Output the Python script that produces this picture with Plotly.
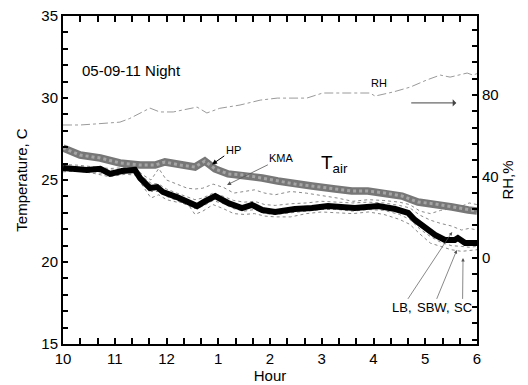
import plotly.graph_objects as go

# ---- data (hours elapsed since 10 PM) ----
hour_ticks = [0, 1, 2, 3, 4, 5, 6, 7, 8]
hour_labels = ["10", "11", "12", "1", "2", "3", "4", "5", "6"]

hours_tair = [0, 0.23, 0.46, 0.72, 0.91, 1.14, 1.39, 1.49, 1.68, 1.82, 1.93, 2.20, 2.45, 2.59, 2.74, 2.94,
              3.19, 3.46, 3.65, 3.85, 4.10, 4.48, 4.81, 5.12, 5.64, 6.09, 6.42, 6.67, 6.80, 7.00, 7.19,
              7.38, 7.57, 7.63, 7.77, 8.0]
tair = [25.73, 25.70, 25.61, 25.68, 25.37, 25.55, 25.61, 25.12, 24.51, 24.57, 24.27, 23.96, 23.60, 23.41,
        23.70, 24.02, 23.60, 23.29, 23.48, 23.17, 23.05, 23.23, 23.29, 23.41, 23.29, 23.41, 23.23, 22.99,
        22.56, 22.07, 21.65, 21.34, 21.34, 21.46, 21.16, 21.16]

hours_hp = [0, 0.33, 0.72, 1.10, 1.49, 1.78, 1.97, 2.26, 2.55, 2.74, 2.94, 3.19, 3.52, 3.85, 4.15, 4.48,
            4.81, 5.26, 5.58, 5.89, 6.22, 6.55, 6.86, 7.19, 7.52, 7.83, 8.0]
hp = [26.95, 26.52, 26.34, 26.04, 25.91, 25.91, 26.10, 25.91, 25.79, 26.16, 25.67, 25.37, 25.30, 25.12,
      24.94, 24.76, 24.63, 24.45, 24.33, 24.33, 24.21, 24.02, 23.66, 23.54, 23.35, 23.17, 23.11]

hours_thin = [0, 0.3, 0.6, 0.9, 1.2, 1.4, 1.55, 1.7, 1.85, 2.0, 2.2, 2.4, 2.55, 2.7, 2.9, 3.1, 3.3, 3.5,
              3.7, 3.9, 4.1, 4.4, 4.7, 5.0, 5.3, 5.6, 5.9, 6.2, 6.5, 6.7, 6.9, 7.1, 7.3, 7.5, 7.7, 7.85, 8.0]
kma = [25.95, 25.9, 25.8, 25.7, 25.75, 25.7, 25.3, 25.0, 25.7, 25.0, 24.75, 24.5, 24.45, 24.5, 24.75,
       24.55, 24.2, 24.3, 24.4, 24.2, 24.1, 24.3, 24.2, 24.05, 23.9, 23.7, 23.8, 23.75, 23.65, 23.5, 23.1,
       22.95, 23.15, 23.25, 23.4, 23.6, 23.5]
lb = [25.85, 25.8, 25.75, 25.6, 25.65, 25.55, 25.2, 24.8, 24.75, 24.45, 24.2, 23.95, 23.8, 23.9, 24.2,
      24.0, 23.75, 23.65, 23.7, 23.5, 23.45, 23.55, 23.6, 23.7, 23.65, 23.6, 23.65, 23.6, 23.45, 23.3,
      22.85, 22.55, 22.35, 22.2, 21.95, 22.05, 21.95]
sbw = [25.55, 25.6, 25.5, 25.3, 25.45, 25.4, 24.75, 24.3, 24.3, 24.0, 23.75, 23.45, 23.25, 23.4, 23.75,
       23.55, 23.25, 23.1, 23.2, 22.95, 22.9, 23.0, 23.1, 23.2, 23.2, 23.1, 23.2, 23.15, 22.9, 22.6, 22.0,
       21.55, 21.2, 21.0, 20.95, 20.9, 20.95]
sc = [25.5, 25.55, 25.4, 25.2, 25.35, 25.3, 24.6, 23.9, 24.1, 23.8, 23.65, 23.6, 22.9, 23.1, 23.5, 23.25,
      22.95, 22.9, 22.95, 22.8, 22.75, 22.75, 22.95, 23.05, 23.0, 22.95, 23.05, 22.9, 22.6, 22.3, 21.7,
      21.15, 20.95, 20.75, 20.65, 20.7, 20.75]

hours_rh = [0, 0.33, 0.62, 1.10, 1.29, 1.68, 1.87, 2.13, 2.59, 2.78, 3.03, 3.42, 3.81, 4.14, 4.71, 5.02,
            5.55, 5.93, 6.03, 6.38, 6.71, 7.03, 7.29, 7.48, 7.81, 7.92, 8.0]
rh = [65.3, 65.3, 65.8, 66.7, 68.5, 73.6, 71.7, 71.7, 74.1, 71.2, 73.5, 75.1, 77.5, 78.5, 78.5, 81.0,
      81.0, 81.0, 79.5, 81.5, 83.9, 87.4, 89.8, 88.8, 90.8, 89.8, 90.5]

FONT = "Arial, Liberation Sans, sans-serif"

fig = go.Figure()
thin = dict(color="#8a8a8a", width=1, dash="dot")
fig.add_trace(go.Scatter(x=hours_thin, y=sc, mode="lines", line=thin))
fig.add_trace(go.Scatter(x=hours_thin, y=sbw, mode="lines", line=thin))
fig.add_trace(go.Scatter(x=hours_thin, y=lb, mode="lines", line=thin))
fig.add_trace(go.Scatter(x=hours_thin, y=kma, mode="lines", line=thin))
fig.add_trace(go.Scatter(x=hours_hp, y=hp, mode="lines", line=dict(color="#777777", width=7.5)))
fig.add_trace(go.Scatter(x=hours_hp, y=hp, mode="lines",
                         line=dict(color="#a5a5a5", width=3, dash="dot")))
fig.add_trace(go.Scatter(x=hours_tair, y=tair, mode="lines", line=dict(color="black", width=6)))
fig.add_trace(go.Scatter(x=hours_rh, y=rh, mode="lines", yaxis="y2",
                         line=dict(color="#9a9a9a", width=1, dash="dashdot")))

ann = []
ann.append(dict(x=0.33, y=31.7, xref="x", yref="y", text="05-09-11 Night", showarrow=False,
                xanchor="left", font=dict(size=15, color="black", family=FONT)))
ann.append(dict(x=6.1, y=30.9, xref="x", yref="y", text="RH", showarrow=False,
                font=dict(size=11, color="black", family=FONT)))
ann.append(dict(x=7.6, y=29.7, ax=6.7, ay=29.7, xref="x", yref="y", axref="x", ayref="y", text="",
                showarrow=True, arrowhead=1, arrowsize=1.2, arrowwidth=1, arrowcolor="#444"))
ann.append(dict(x=2.88, y=25.95, ax=3.29, ay=26.85, xref="x", yref="y", axref="x", ayref="y",
                text="HP", showarrow=True, arrowhead=2, arrowsize=1, arrowwidth=1, arrowcolor="black",
                font=dict(size=11, color="black", family=FONT)))
ann.append(dict(x=3.17, y=24.7, ax=4.23, ay=26.35, xref="x", yref="y", axref="x", ayref="y",
                text="KMA", showarrow=True, arrowhead=2, arrowsize=1, arrowwidth=0.8, arrowcolor="#555",
                font=dict(size=11, color="black", family=FONT)))
ann.append(dict(x=5.25, y=26.0, xref="x", yref="y", text="T<sub>air</sub>", showarrow=False,
                font=dict(size=19, color="black", family=FONT)))
for word, hx, ty, tx in [("LB,", 7.52, 21.83, 6.55), ("SBW,", 7.61, 20.73, 7.15), ("SC", 7.73, 20.24, 7.72)]:
    ann.append(dict(x=hx, y=ty, ax=tx, ay=17.2, xref="x", yref="y", axref="x", ayref="y", text=word,
                    showarrow=True, arrowhead=2, arrowsize=1, arrowwidth=0.7, arrowcolor="#555",
                    font=dict(size=13, color="black", family=FONT)))

fig.update_layout(
    width=528, height=385,
    margin=dict(l=63, r=51, t=16, b=41),
    paper_bgcolor="white", plot_bgcolor="white",
    showlegend=False,
    font=dict(family=FONT, size=15, color="black"),
    annotations=ann,
    xaxis=dict(range=[0, 8], tickmode="array", tickvals=hour_ticks, ticktext=hour_labels,
               automargin=False,
               showgrid=False, zeroline=False, showline=True, linecolor="black", linewidth=2,
               mirror="ticks", ticks="inside", ticklen=6, tickwidth=1.5, tickcolor="black",
               minor=dict(tickmode="linear", tick0=0, dtick=1/3, ticks="inside", ticklen=6,
                          tickwidth=1.5, tickcolor="black", showgrid=False),
               title=dict(text="Hour", standoff=4, font=dict(size=15)),
               tickfont=dict(size=15)),
    yaxis=dict(range=[15, 35], tickmode="linear", tick0=15, dtick=5, automargin=False,
               showgrid=False, zeroline=False, showline=True, linecolor="black", linewidth=2,
               ticks="inside", ticklen=5, tickwidth=1.5, tickcolor="black",
               minor=dict(tickmode="linear", tick0=15, dtick=1, ticks="inside", ticklen=5,
                          tickwidth=1.5, tickcolor="black", showgrid=False),
               title=dict(text="Temperature, C", standoff=10, font=dict(size=15)),
               tickfont=dict(size=15)),
    yaxis2=dict(range=[-42.2, 118.8], overlaying="y", side="right", tickmode="array",
                tickvals=[0, 40, 80], automargin=False, showgrid=False, zeroline=False, showline=True,
                linecolor="black", linewidth=2, ticks="inside", ticklen=5, tickwidth=1.5,
                tickcolor="black",
                minor=dict(tickmode="linear", tick0=0, dtick=8, ticks="inside", ticklen=5,
                           tickwidth=1.5, tickcolor="black", showgrid=False),
                title=dict(text="RH,%", standoff=4, font=dict(size=15)),
                tickfont=dict(size=15)),
)

fig.write_html("out.html", config={"displayModeBar": False},
               post_script="document.body.style.margin='0px';")
